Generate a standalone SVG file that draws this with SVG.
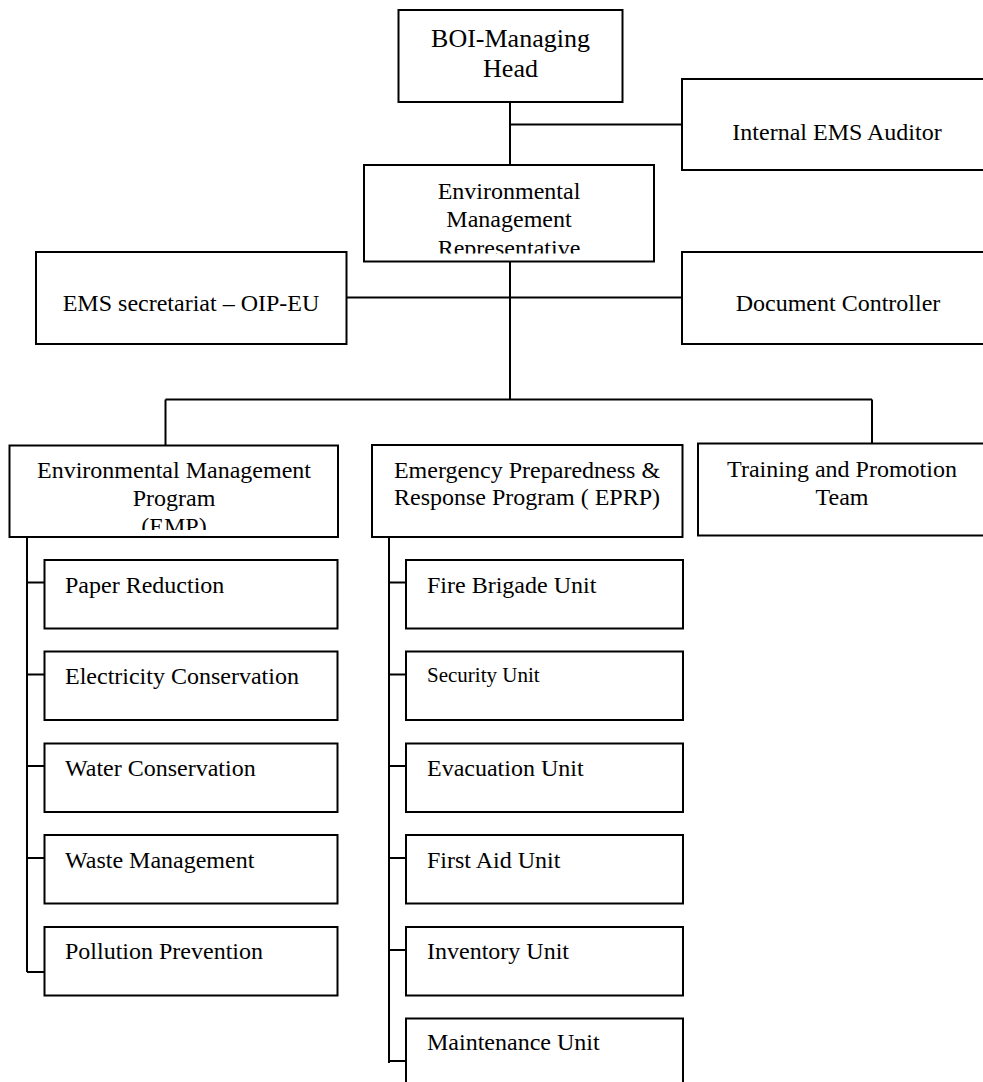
<svg xmlns="http://www.w3.org/2000/svg" width="983" height="1082" viewBox="0 0 983 1082">
  <style>
    .box { fill: #fff; stroke: #000; stroke-width: 2; }
    .link { fill: none; stroke: #000; stroke-width: 2; }
    text { font-family: "Liberation Serif", "Times New Roman", serif; font-size: 24px; fill: #000; }
    .c { text-anchor: middle; }
    .head { font-size: 26px; }
    .small { font-size: 21px; }
  </style>
  <defs>
    <clipPath id="clip-emr"><rect x="364" y="165" width="290" height="88.5"/></clipPath>
    <clipPath id="clip-emp"><rect x="10" y="446" width="328" height="84"/></clipPath>
  </defs>

  <!-- connectors -->
  <g id="connectors">
    <path class="link" d="M510 102 V165 M510 124.5 H682"/>
    <path class="link" d="M510 261 V399.5 M346 297.5 H682"/>
    <path class="link" d="M165.5 399.5 H872 M165.5 399.5 V445.5 M872 399.5 V443.5"/>
    <path class="link" d="M27 537 V972 M27 582.5 H44.5 M27 674.5 H44.5 M27 766 H44.5 M27 858 H44.5 M27 972 H44.5"/>
    <path class="link" d="M389 537 V1063 M389 582.5 H406 M389 674.5 H406 M389 766 H406 M389 858 H406 M389 950 H406 M389 1061 H406"/>
  </g>

  <!-- top level -->
  <g id="boi-head">
    <rect class="box" x="398.5" y="10" width="224" height="92"/>
    <text class="c head" x="510.5" y="47">BOI-Managing</text>
    <text class="c head" x="510.5" y="76.5">Head</text>
  </g>
  <g id="internal-auditor">
    <rect class="box" x="682" y="79" width="320" height="91"/>
    <text class="c" x="837" y="139.5">Internal EMS Auditor</text>
  </g>
  <g id="emr">
    <rect class="box" x="364" y="165" width="290" height="96.5"/>
    <g clip-path="url(#clip-emr)">
      <text class="c" x="509" y="198.5">Environmental</text>
      <text class="c" x="509" y="227">Management</text>
      <text class="c" x="509" y="255.5">Representative</text>
    </g>
  </g>
  <g id="ems-secretariat">
    <rect class="box" x="36" y="252" width="310.5" height="92"/>
    <text class="c" x="191" y="311">EMS secretariat – OIP-EU</text>
  </g>
  <g id="document-controller">
    <rect class="box" x="682" y="252" width="320" height="92"/>
    <text class="c" x="838" y="311">Document Controller</text>
  </g>

  <!-- programmes -->
  <g id="emp">
    <rect class="box" x="9.5" y="445.5" width="328.5" height="91.5"/>
    <g clip-path="url(#clip-emp)">
      <text class="c" x="174" y="478">Environmental Management</text>
      <text class="c" x="174" y="506">Program</text>
      <text class="c" x="174" y="534">(EMP)</text>
    </g>
  </g>
  <g id="eprp">
    <rect class="box" x="372" y="445" width="310.5" height="92"/>
    <text class="c" x="527" y="478">Emergency Preparedness &amp;</text>
    <text class="c" x="527" y="505">Response Program ( EPRP)</text>
  </g>
  <g id="training">
    <rect class="box" x="698" y="443.5" width="300" height="92"/>
    <text class="c" x="842" y="477">Training and Promotion</text>
    <text class="c" x="842" y="505">Team</text>
  </g>

  <!-- EMP activities -->
  <g id="paper-reduction">
    <rect class="box" x="44.5" y="560" width="293" height="68.5"/>
    <text x="65" y="593">Paper Reduction</text>
  </g>
  <g id="electricity-conservation">
    <rect class="box" x="44.5" y="651.5" width="293" height="68.5"/>
    <text x="65" y="683.5">Electricity Conservation</text>
  </g>
  <g id="water-conservation">
    <rect class="box" x="44.5" y="743.5" width="293" height="68.5"/>
    <text x="65" y="776">Water Conservation</text>
  </g>
  <g id="waste-management">
    <rect class="box" x="44.5" y="835" width="293" height="68.5"/>
    <text x="65" y="867.5">Waste Management</text>
  </g>
  <g id="pollution-prevention">
    <rect class="box" x="44.5" y="927" width="293" height="68.5"/>
    <text x="65" y="959">Pollution Prevention</text>
  </g>

  <!-- EPRP units -->
  <g id="fire-brigade">
    <rect class="box" x="406" y="560" width="277" height="68.5"/>
    <text x="427" y="593">Fire Brigade Unit</text>
  </g>
  <g id="security">
    <rect class="box" x="406" y="651.5" width="277" height="68.5"/>
    <text class="small" x="427" y="682">Security Unit</text>
  </g>
  <g id="evacuation">
    <rect class="box" x="406" y="743.5" width="277" height="68.5"/>
    <text x="427" y="776">Evacuation Unit</text>
  </g>
  <g id="first-aid">
    <rect class="box" x="406" y="835" width="277" height="68.5"/>
    <text x="427" y="867.5">First Aid Unit</text>
  </g>
  <g id="inventory">
    <rect class="box" x="406" y="927" width="277" height="68.5"/>
    <text x="427" y="959">Inventory Unit</text>
  </g>
  <g id="maintenance">
    <rect class="box" x="406" y="1018.5" width="277" height="80"/>
    <text x="427" y="1050">Maintenance Unit</text>
  </g>
</svg>
